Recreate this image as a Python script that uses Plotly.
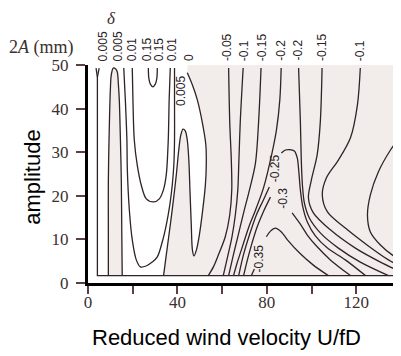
import plotly.graph_objects as go

# ---------------- data (U = reduced wind velocity, A = 2A in mm) ----------------
X_TICKS = [0, 20, 40, 60, 80, 100, 120]
X_TICK_TEXT = ["0", "", "40", "", "80", "", "120"]
Y_TICKS = [0, 10, 20, 30, 40, 50]

# inner frame line (delta = 0.005 boundary)
U_box = [5.0, 4.2, 4.2, 140.0]
A_box = [49.3, 47.2, 1.7, 1.7]
U_fork = [3.6, 4.2]
A_fork = [49.3, 47.2]

# narrow loop 0.005
U_loop = [9.1, 9.1, 9.1, 9.5, 10.0, 10.4, 11.3, 12.4, 13.1, 13.6, 14.0, 14.5, 14.9, 15.1, 15.3]
A_loop = [1.7, 12.2, 23.6, 35.1, 44.3, 47.7, 49.3, 49.1, 48.4, 45.5, 42.0, 32.8, 23.6, 12.2, 1.7]

# lower U 0.005
U_low = [16.0, 16.7, 17.4, 17.6, 18.5, 19.8, 21.6, 23.4, 26.0, 28.7, 31.0, 33.2, 35.0, 36.6, 37.7, 38.4, 38.7, 38.7, 38.7]
A_low = [49.3, 42.0, 32.8, 25.9, 16.7, 9.9, 5.3, 3.7, 3.9, 4.8, 6.0, 9.4, 13.3, 17.9, 22.5, 27.1, 32.8, 42.0, 49.3]

# upper U 0.01
U_up = [19.8, 20.1, 20.7, 22.1, 23.9, 26.1, 29.4, 31.9, 33.7, 35.0, 35.9, 36.3, 36.8]
A_up = [49.3, 42.0, 32.8, 26.8, 22.3, 19.3, 18.6, 19.3, 21.3, 24.8, 32.8, 42.0, 49.3]

# small U 0.15
U_s15 = [27.0, 27.2, 27.9, 29.0, 30.1, 30.8, 31.0]
A_s15 = [49.3, 47.0, 45.6, 45.0, 45.6, 47.0, 49.3]

# contour 0
U_zero = [33.8, 35.0, 36.8, 38.2, 39.5, 40.6, 41.5, 42.5, 43.5, 44.4, 45.1, 45.6, 46.2, 46.7, 47.4,
          48.5, 49.8, 51.3, 52.5, 52.9, 52.7, 51.1, 48.9, 46.7, 44.4]
A_zero = [1.7, 6.4, 13.3, 19.0, 24.8, 30.5, 33.9, 35.3, 34.9, 32.8, 28.2, 21.3, 13.3, 7.6, 6.2,
          7.6, 11.0, 16.7, 22.5, 27.1, 31.7, 36.9, 42.0, 45.4, 48.2]

# negative contours
U_m05 = [62.9, 63.4, 64.1, 64.3, 63.4, 61.4, 58.3, 56.1, 53.8]
A_m05 = [49.3, 36.9, 28.2, 21.3, 15.6, 10.6, 6.4, 3.7, 1.7]

U_m10 = [69.4, 68.1, 67.5, 67.0, 65.9, 64.4, 62.3, 60.5]
A_m10 = [49.3, 36.9, 28.2, 21.3, 15.6, 10.6, 5.7, 1.7]

U_m15 = [77.4, 76.3, 74.9, 72.2, 69.6, 67.0, 65.0, 62.9]
A_m15 = [49.3, 36.9, 27.5, 21.3, 16.1, 10.6, 6.4, 1.7]

U_m20 = [86.4, 85.8, 84.3, 82.3, 78.6, 74.9, 71.9, 68.6, 66.7, 65.1]
A_m20 = [49.3, 42.0, 35.1, 29.8, 22.0, 16.7, 12.8, 7.6, 4.6, 1.7]

U_m25a = [67.4, 69.5, 72.2, 75.3, 78.4, 81.1]
A_m25a = [1.7, 6.4, 11.0, 15.6, 19.0, 22.0]
U_m25b = [86.5, 88.3, 90.1, 92.3, 93.6, 94.3, 95.0, 96.1, 98.1, 101.7, 107.1, 115.1, 124.1]
A_m25b = [29.8, 30.5, 30.6, 30.3, 28.7, 25.5, 21.3, 17.4, 14.0, 10.8, 8.0, 5.3, 1.7]

U_m30a = [69.6, 71.3, 73.1, 75.6, 78.4, 81.6]
A_m30a = [1.7, 5.3, 8.7, 12.8, 16.3, 19.7]
U_m30b = [91.3, 95.0, 98.1, 102.5, 108.4, 117.4]
A_m30b = [16.1, 13.5, 11.0, 8.3, 5.3, 1.7]

U_m35a = [73.1, 74.4]
A_m35a = [1.7, 3.2]
U_m35b = [79.8, 81.6, 83.8, 86.5, 89.2, 95.0, 100.8, 107.5]
A_m35b = [10.6, 11.9, 12.6, 11.7, 9.9, 6.7, 4.1, 1.7]

U_m20b = [94.2, 95.0, 95.4, 95.9, 96.8, 99.0, 103.9, 112.0, 121.8, 134.4]
A_m20b = [49.3, 36.9, 28.2, 22.5, 18.3, 14.9, 11.5, 8.0, 4.8, 1.7]

U_m15b = [104.7, 103.9, 102.5, 99.9, 98.6, 100.8, 108.4, 119.6, 130.8, 140.2]
A_m15b = [49.3, 36.9, 29.4, 23.6, 19.5, 16.1, 12.2, 8.0, 4.8, 2.5]

U_m10b = [121.8, 120.5, 117.4, 112.0, 106.6, 104.8, 107.1, 115.1, 125.4, 134.4, 140.2]
A_m10b = [49.3, 40.8, 33.3, 28.2, 24.1, 20.2, 16.3, 12.6, 8.5, 5.3, 3.7]

U_bowl = [140.2, 135.3, 129.9, 126.3, 125.0, 126.3, 130.8, 136.2, 140.2]
A_bowl = [33.9, 30.5, 25.5, 20.2, 15.6, 11.7, 8.7, 6.4, 5.3]

# contour labels along the top edge
TOP_LABELS = ["0.005", "0.005", "0.01", "0.15", "0.15", "0.01", "0",
              "-0.05", "-0.1", "-0.15", "-0.2", "-0.2", "-0.15", "-0.1"]
TOP_LABEL_U = [6.9, 13.6, 19.8, 26.5, 31.9, 37.7, 44.9, 62.2, 69.6, 77.9, 86.0, 93.5, 104.7, 121.5]

# contour labels inside the plot
IN_LABELS = ["0.005", "-0.25", "-0.3", "-0.35"]
IN_LABEL_U = [41.5, 83.8, 87.4, 76.4]
IN_LABEL_A = [44.0, 26.4, 19.4, 5.6]

# ---------------- figure ----------------
LINE_COLOR = "#2f2327"
STIPPLE = "#f2edeb"
LABEL_FONT = dict(family="Liberation Sans Narrow, Arial Narrow, Liberation Sans, Arial, sans-serif",
                  size=12, color="#2a2226")

fig = go.Figure()

# stippled regions
fig.add_trace(go.Scatter(x=U_loop, y=A_loop, fill="toself", fillcolor=STIPPLE,
                         line=dict(width=0), mode="lines", hoverinfo="skip"))
fig.add_trace(go.Scatter(x=U_zero + [U_zero[-1], 140.2, 140.2], y=A_zero + [50, 50, 1.7],
                         fill="toself", fillcolor=STIPPLE, line=dict(width=0),
                         mode="lines", hoverinfo="skip"))

# straight frame lines
for ux, ay in [(U_box, A_box), (U_fork, A_fork)]:
    fig.add_trace(go.Scatter(x=ux, y=ay, mode="lines",
                             line=dict(color=LINE_COLOR, width=1.3), hoverinfo="skip"))

curves = [(U_loop, A_loop), (U_low, A_low), (U_up, A_up), (U_s15, A_s15), (U_zero, A_zero),
          (U_m05, A_m05), (U_m10, A_m10), (U_m15, A_m15), (U_m20, A_m20),
          (U_m25a, A_m25a), (U_m25b, A_m25b), (U_m30a, A_m30a), (U_m30b, A_m30b),
          (U_m35a, A_m35a), (U_m35b, A_m35b), (U_m20b, A_m20b), (U_m15b, A_m15b),
          (U_m10b, A_m10b), (U_bowl, A_bowl)]
for ux, ay in curves:
    fig.add_trace(go.Scatter(x=ux, y=ay, mode="lines",
                             line=dict(color=LINE_COLOR, width=1.3, shape="spline", smoothing=0.9),
                             hoverinfo="skip"))

annotations = []
for txt, u in zip(TOP_LABELS, TOP_LABEL_U):
    annotations.append(dict(x=u, y=1.009, xref="x", yref="paper", text=txt, showarrow=False,
                            textangle=-90, xanchor="center", yanchor="bottom", font=LABEL_FONT))
for txt, u, a in zip(IN_LABELS, IN_LABEL_U, IN_LABEL_A):
    annotations.append(dict(x=u, y=a, xref="x", yref="y", text=txt, showarrow=False,
                            textangle=-90, xanchor="center", yanchor="middle", font=LABEL_FONT))

annotations += [
    dict(x=0.0735, y=1.215, xref="paper", yref="paper", text="<i>δ</i>", showarrow=False,
         xanchor="center", yanchor="middle",
         font=dict(family="Liberation Serif, Times New Roman, serif", size=17, color="#3a3030")),
    dict(x=-0.147, y=1.078, xref="paper", yref="paper", text="2<i>A</i> (mm)", showarrow=False,
         xanchor="center", yanchor="middle",
         font=dict(family="Liberation Serif, Times New Roman, serif", size=18, color="#3a3030")),
    dict(x=0.441, y=-0.252, xref="paper", yref="paper", text="Reduced wind velocity U/fD",
         showarrow=False, xanchor="center", yanchor="middle",
         font=dict(family="Liberation Sans, Arial, sans-serif", size=22, color="black")),
    dict(x=-0.18, y=0.486, xref="paper", yref="paper", text="amplitude", textangle=-90,
         showarrow=False, xanchor="center", yanchor="middle",
         font=dict(family="Liberation Sans, Arial, sans-serif", size=22, color="black")),
]

tickfont = dict(family="Liberation Serif, Times New Roman, serif", size=17, color="#3a3030")
# the page body has an 8 px margin, so the figure is 8 px smaller and its margins 8 px narrower
fig.update_layout(
    width=393, height=348,
    margin=dict(l=80, r=0, t=57, b=73),
    paper_bgcolor="white", plot_bgcolor="white",
    showlegend=False,
    xaxis=dict(range=[0, 140], tickvals=X_TICKS, ticktext=X_TICK_TEXT, ticks="outside",
               ticklen=8, tickwidth=1.5, tickcolor="#5a4040", showline=True, linewidth=3,
               linecolor="black", showgrid=False, zeroline=False, tickfont=tickfont,
               ticklabelstandoff=-6),
    yaxis=dict(range=[0, 50], tickvals=Y_TICKS, ticks="outside", ticklen=9, tickwidth=1.5,
               tickcolor="#5a4040", showline=True, linewidth=3, linecolor="black",
               showgrid=False, zeroline=False, tickfont=tickfont, ticklabelstandoff=4),
    annotations=annotations,
)

fig.write_html("out.html")
